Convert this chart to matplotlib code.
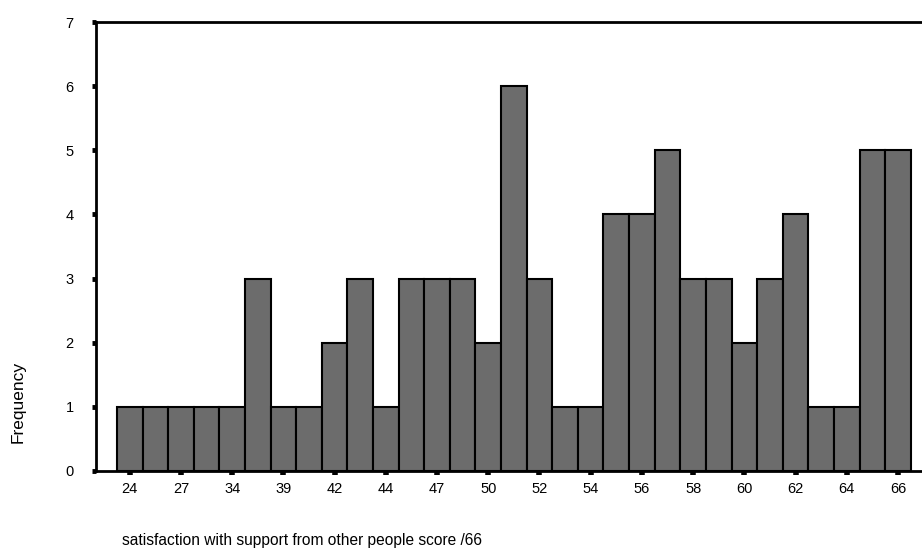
import matplotlib
matplotlib.use("Agg")
import matplotlib.pyplot as plt
import numpy as np

plt.rcParams['font.family'] = ['Liberation Sans', 'DejaVu Sans']

# Frequencies of each score bar (left to right)
frequencies = [1, 1, 1, 1, 1, 3, 1, 1, 2, 3, 1, 3, 3, 3, 2, 6,
               3, 1, 1, 4, 4, 5, 3, 3, 2, 3, 4, 1, 1, 5, 5]
# Labels shown under every other bar
tick_labels = ['24', '27', '34', '39', '42', '44', '47', '50',
               '52', '54', '56', '58', '60', '62', '64', '66']
y_ticks = [0, 1, 2, 3, 4, 5, 6, 7]

fig = plt.figure(figsize=(9.22, 5.52), dpi=100)
ax = fig.add_axes([96/922, 1-471/552, 1-96/922, (471-22)/552])

x = np.arange(len(frequencies))
ax.bar(x, frequencies, width=1.0, color='#6c6c6c', edgecolor='black',
       linewidth=1.5, zorder=2)

ax.set_xlim(-1.32, 30.94)
ax.set_ylim(0, 7)
ax.set_xticks(x[::2])
ax.set_xticklabels(tick_labels)
ax.set_yticks(y_ticks)

ax.spines['right'].set_visible(False)
for s in ['left', 'top', 'bottom']:
    ax.spines[s].set_linewidth(2.0)

ax.tick_params(axis='x', direction='out', length=3, width=4, pad=5,
               labelsize=10.5)
ax.tick_params(axis='y', direction='out', length=3, width=3.5, pad=13,
               labelsize=10.5)

fig.text(18/922, 1-402/552, 'Frequency', rotation=90, ha='center',
         va='center', fontsize=12.5)
fig.text(122/922, 1-541/552, 'satisfaction with support from other people score /66',
         ha='left', va='center', fontsize=11.2)

fig.savefig('out.png', dpi=100)
